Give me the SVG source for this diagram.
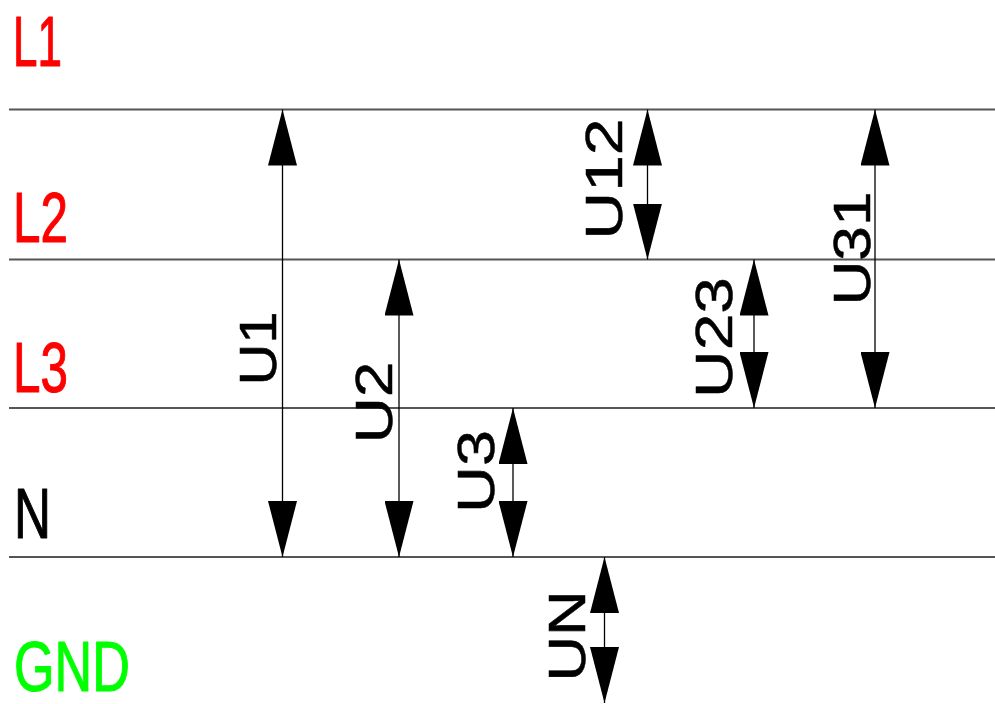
<svg xmlns="http://www.w3.org/2000/svg" width="995" height="704" viewBox="0 0 995 704">
<style>
.bus{stroke:#555;stroke-width:2;fill:none}
.lbl{font-family:"Liberation Sans",Arial,sans-serif;font-size:71px;stroke-width:1.1;stroke-linejoin:round}
.red{fill:#ff0000;stroke:#ff0000}
.blk{fill:#000;stroke:#000}
.grn{fill:#00ff00;stroke:#00ff00}
.arr{stroke:#000;stroke-width:1.3;fill:none;marker-start:url(#ah);marker-end:url(#ah)}
.ul{font-family:"Liberation Sans",Arial,sans-serif;font-size:52px;fill:#000;stroke:#000;stroke-width:0.5;text-anchor:middle}
</style>
<defs>
<marker id="ah" viewBox="0 0 56 29" refX="56" refY="14.5" markerWidth="56" markerHeight="29" markerUnits="userSpaceOnUse" orient="auto-start-reverse">
<path d="M0,0 L56,14.5 L0,29 Z" fill="#000"/>
</marker>
</defs>
<rect width="995" height="704" fill="#fff"/>
<g id="L1">
<text class="lbl red" x="13" y="65.5" textLength="49" lengthAdjust="spacingAndGlyphs">L1</text>
<line class="bus" x1="9" y1="109.5" x2="995" y2="109.5"/>
</g>
<g id="L2">
<text class="lbl red" x="13" y="241.5" textLength="55" lengthAdjust="spacingAndGlyphs">L2</text>
<line class="bus" x1="9" y1="259.5" x2="995" y2="259.5"/>
</g>
<g id="L3">
<text class="lbl red" x="13" y="392" textLength="55" lengthAdjust="spacingAndGlyphs">L3</text>
<line class="bus" x1="9" y1="408" x2="995" y2="408"/>
</g>
<g id="N">
<text class="lbl blk" x="14" y="538" textLength="37" lengthAdjust="spacingAndGlyphs">N</text>
<line class="bus" x1="9" y1="557" x2="995" y2="557"/>
</g>
<g id="GND">
<text class="lbl grn" x="14" y="690.5" font-size="72" textLength="116" lengthAdjust="spacingAndGlyphs">GND</text>
</g>
<g id="connectors">
<line class="arr" x1="282.5" y1="109.5" x2="282.5" y2="557"/>
<line class="arr" x1="399" y1="259.5" x2="399" y2="557"/>
<line class="arr" x1="513" y1="408" x2="513" y2="557"/>
<line class="arr" x1="604.5" y1="557" x2="604.5" y2="703"/>
<line class="arr" x1="647.5" y1="109.5" x2="647.5" y2="259.5"/>
<line class="arr" x1="754" y1="259.5" x2="754" y2="408"/>
<line class="arr" x1="875" y1="109.5" x2="875" y2="408"/>
</g>
<g id="voltage-labels">
<text class="ul" transform="translate(276,348.5) rotate(-90)" textLength="74" lengthAdjust="spacingAndGlyphs">U1</text>
<text class="ul" transform="translate(391.5,402.5) rotate(-90)" textLength="82" lengthAdjust="spacingAndGlyphs">U2</text>
<text class="ul" transform="translate(494,471.5) rotate(-90)" textLength="83" lengthAdjust="spacingAndGlyphs">U3</text>
<text class="ul" transform="translate(585,636) rotate(-90)" textLength="91" lengthAdjust="spacingAndGlyphs">UN</text>
<text class="ul" transform="translate(621.5,179) rotate(-90)" textLength="121" lengthAdjust="spacingAndGlyphs">U12</text>
<text class="ul" transform="translate(731.5,337.5) rotate(-90)" textLength="121" lengthAdjust="spacingAndGlyphs">U23</text>
<text class="ul" transform="translate(870,248.5) rotate(-90)" textLength="114" lengthAdjust="spacingAndGlyphs">U31</text>
</g>
</svg>
